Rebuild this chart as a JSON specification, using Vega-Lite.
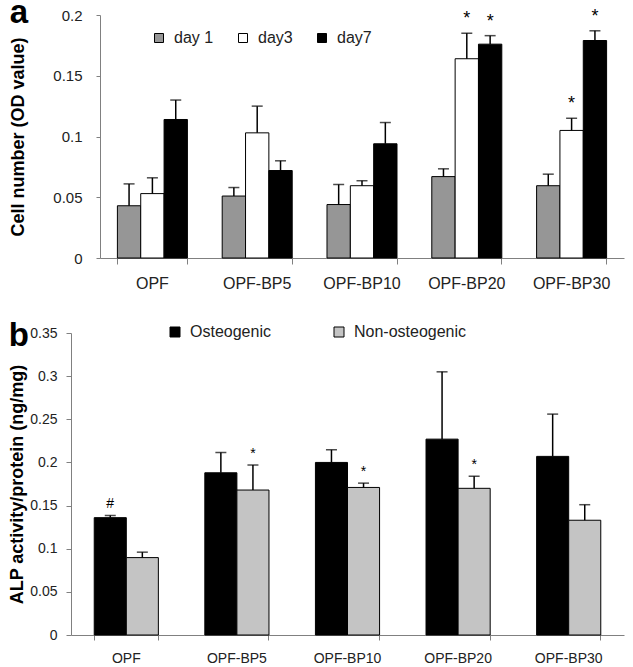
{
  "$schema": "https://vega.github.io/schema/vega-lite/v6.json",
  "padding": {"left": 8, "top": -4, "right": 5, "bottom": 0},
  "config": {
    "font": "Liberation Sans",
    "view": {"stroke": null},
    "axis": {"domainColor": "#808080", "tickColor": "#808080", "labelColor": "#222222", "titleColor": "#000000", "grid": false, "domainWidth": 1, "tickWidth": 1}
  },
  "resolve": {"scale": {"x": "independent", "y": "independent", "fill": "independent", "xOffset": "independent"}, "legend": {"fill": "independent"}},
  "spacing": 29,
  "vconcat": [
    {
      "width": 553,
      "height": 243,
      "title": {"text": "a", "fontSize": 33, "fontWeight": "bold", "anchor": "start", "frame": "bounds", "baseline": "bottom", "offset": -55, "color": "#000000"},
      "data": {"values": [
        {"group": "OPF", "day": "day 1", "mean": 0.043, "upper": 0.061, "sig": ""},
        {"group": "OPF", "day": "day3", "mean": 0.053, "upper": 0.066, "sig": ""},
        {"group": "OPF", "day": "day7", "mean": 0.114, "upper": 0.130, "sig": ""},
        {"group": "OPF-BP5", "day": "day 1", "mean": 0.051, "upper": 0.058, "sig": ""},
        {"group": "OPF-BP5", "day": "day3", "mean": 0.103, "upper": 0.125, "sig": ""},
        {"group": "OPF-BP5", "day": "day7", "mean": 0.072, "upper": 0.080, "sig": ""},
        {"group": "OPF-BP10", "day": "day 1", "mean": 0.044, "upper": 0.0605, "sig": ""},
        {"group": "OPF-BP10", "day": "day3", "mean": 0.0595, "upper": 0.0636, "sig": ""},
        {"group": "OPF-BP10", "day": "day7", "mean": 0.094, "upper": 0.1115, "sig": ""},
        {"group": "OPF-BP20", "day": "day 1", "mean": 0.067, "upper": 0.0734, "sig": ""},
        {"group": "OPF-BP20", "day": "day3", "mean": 0.164, "upper": 0.185, "sig": "*"},
        {"group": "OPF-BP20", "day": "day7", "mean": 0.176, "upper": 0.183, "sig": "*"},
        {"group": "OPF-BP30", "day": "day 1", "mean": 0.0595, "upper": 0.069, "sig": ""},
        {"group": "OPF-BP30", "day": "day3", "mean": 0.105, "upper": 0.115, "sig": "*"},
        {"group": "OPF-BP30", "day": "day7", "mean": 0.179, "upper": 0.187, "sig": "*"}
      ]},
      "encoding": {
        "x": {"field": "group", "type": "nominal", "sort": null, "title": null,
          "scale": {"paddingInner": 0.332, "paddingOuter": 0.166, "range": [29, 553]},
          "axis": {"labelAngle": 0, "labelFontSize": 16, "labelPadding": 11, "tickSize": 6, "bandPosition": 1, "tickExtra": true}},
        "xOffset": {"field": "day", "type": "nominal", "sort": null, "scale": {"paddingInner": 0, "paddingOuter": 0}}
      },
      "layer": [
        {
          "mark": {"type": "bar", "stroke": "#000000", "strokeWidth": 1},
          "encoding": {
            "y": {"field": "mean", "type": "quantitative", "title": "Cell number (OD value)",
              "scale": {"domain": [0, 0.2]},
              "axis": {"offset": -29, "values": [0, 0.05, 0.1, 0.15, 0.2], "format": ".2~f", "labelFontSize": 15, "labelPadding": 14, "tickSize": 4, "titleFontSize": 18, "titleFontWeight": "bold", "titlePadding": 25}},
            "fill": {"field": "day", "type": "nominal",
              "scale": {"domain": ["day 1", "day3", "day7"], "range": ["#969696", "#ffffff", "#000000"]},
              "legend": {"title": null, "orient": "none", "legendX": 80, "legendY": 15, "direction": "horizontal", "symbolType": "square", "symbolSize": 81, "symbolStrokeColor": "#000000", "symbolStrokeWidth": 1, "labelFontSize": 16, "labelOffset": 7, "columnPadding": 21, "labelColor": "#222222"}}
          }
        },
        {
          "mark": {"type": "rule", "color": "#000000", "strokeWidth": 1.5},
          "encoding": {
            "y": {"field": "mean", "type": "quantitative", "title": "Cell number (OD value)"},
            "y2": {"field": "upper"}
          }
        },
        {
          "mark": {"type": "tick", "color": "#000000", "thickness": 1.5, "size": 11},
          "encoding": {
            "y": {"field": "upper", "type": "quantitative", "title": "Cell number (OD value)"}
          }
        },
        {
          "mark": {"type": "text", "dy": -14, "fontSize": 18, "color": "#000000"},
          "encoding": {
            "y": {"field": "upper", "type": "quantitative", "title": "Cell number (OD value)"},
            "text": {"field": "sig"}
          }
        }
      ]
    },
    {
      "width": 553,
      "height": 302,
      "title": {"text": "b", "fontSize": 33, "fontWeight": "bold", "anchor": "start", "frame": "bounds", "baseline": "bottom", "offset": -62, "color": "#000000"},
      "data": {"values": [
        {"group": "OPF", "condition": "Osteogenic", "mean": 0.136, "upper": 0.1385, "sig": "#"},
        {"group": "OPF", "condition": "Non-osteogenic", "mean": 0.0897, "upper": 0.096, "sig": ""},
        {"group": "OPF-BP5", "condition": "Osteogenic", "mean": 0.188, "upper": 0.2115, "sig": ""},
        {"group": "OPF-BP5", "condition": "Non-osteogenic", "mean": 0.168, "upper": 0.197, "sig": "*"},
        {"group": "OPF-BP10", "condition": "Osteogenic", "mean": 0.200, "upper": 0.2146, "sig": ""},
        {"group": "OPF-BP10", "condition": "Non-osteogenic", "mean": 0.171, "upper": 0.176, "sig": "*"},
        {"group": "OPF-BP20", "condition": "Osteogenic", "mean": 0.227, "upper": 0.305, "sig": ""},
        {"group": "OPF-BP20", "condition": "Non-osteogenic", "mean": 0.170, "upper": 0.184, "sig": "*"},
        {"group": "OPF-BP30", "condition": "Osteogenic", "mean": 0.207, "upper": 0.256, "sig": ""},
        {"group": "OPF-BP30", "condition": "Non-osteogenic", "mean": 0.133, "upper": 0.151, "sig": ""}
      ]},
      "encoding": {
        "x": {"field": "group", "type": "nominal", "sort": null, "title": null,
          "scale": {"paddingInner": 0.42, "paddingOuter": 0.21},
          "axis": {"labelAngle": 0, "labelFontSize": 14, "labelPadding": 11, "tickSize": 5, "bandPosition": 1, "tickExtra": true}},
        "xOffset": {"field": "condition", "type": "nominal", "sort": null, "scale": {"paddingInner": 0, "paddingOuter": 0}}
      },
      "layer": [
        {
          "mark": {"type": "bar", "stroke": "#000000", "strokeWidth": 1},
          "encoding": {
            "y": {"field": "mean", "type": "quantitative", "title": "ALP activity/protein (ng/mg)",
              "scale": {"domain": [0, 0.35]},
              "axis": {"values": [0, 0.05, 0.1, 0.15, 0.2, 0.25, 0.3, 0.35], "format": ".2~f", "labelFontSize": 14, "labelPadding": 9, "tickSize": 5, "titleFontSize": 18, "titleFontWeight": "bold", "titlePadding": 3}},
            "fill": {"field": "condition", "type": "nominal",
              "scale": {"domain": ["Osteogenic", "Non-osteogenic"], "range": ["#000000", "#c4c4c4"]},
              "legend": {"title": null, "orient": "none", "legendX": 96, "legendY": -9, "direction": "horizontal", "symbolType": "square", "symbolSize": 100, "symbolStrokeColor": "#000000", "symbolStrokeWidth": 1, "labelFontSize": 16, "labelOffset": 7, "columnPadding": 60, "labelColor": "#222222"}}
          }
        },
        {
          "mark": {"type": "rule", "color": "#000000", "strokeWidth": 1.5},
          "encoding": {
            "y": {"field": "mean", "type": "quantitative", "title": "ALP activity/protein (ng/mg)"},
            "y2": {"field": "upper"}
          }
        },
        {
          "mark": {"type": "tick", "color": "#000000", "thickness": 1.5, "size": 11},
          "encoding": {
            "y": {"field": "upper", "type": "quantitative", "title": "ALP activity/protein (ng/mg)"}
          }
        },
        {
          "mark": {"type": "text", "dy": -11, "fontSize": 14, "color": "#000000"},
          "encoding": {
            "y": {"field": "upper", "type": "quantitative", "title": "ALP activity/protein (ng/mg)"},
            "text": {"field": "sig"}
          }
        }
      ]
    }
  ]
}
